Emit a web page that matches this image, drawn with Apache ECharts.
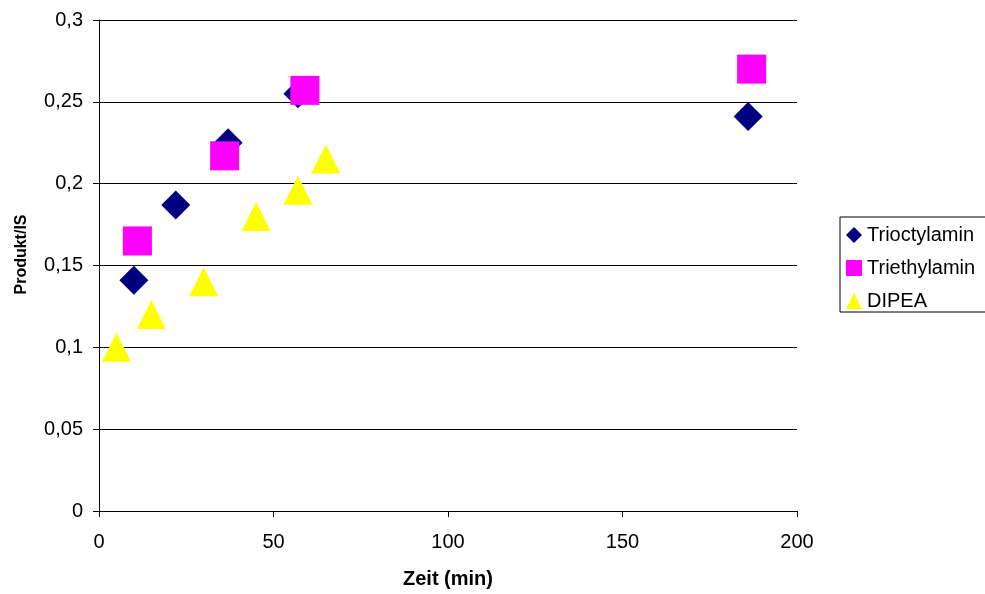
<!DOCTYPE html>
<html>
<head>
<meta charset="utf-8">
<script src="https://cdn.jsdelivr.net/npm/echarts@6/dist/echarts.min.js"></script>
<style>
html,body{margin:0;padding:0;background:#fff;}
#chart{width:985px;height:594px;}
</style>
</head>
<body>
<div id="chart"></div>
<script>
var seriesNames = ['Trioctylamin', 'Triethylamin', 'DIPEA'];
var triocX = [10, 22, 37, 57, 186];
var triocY = [0.141, 0.187, 0.225, 0.255, 0.241];
var triethX = [11, 36, 59, 187];
var triethY = [0.165, 0.217, 0.257, 0.270];
var dipeaX = [5, 15, 30, 45, 57, 65];
var dipeaY = [0.100, 0.120, 0.140, 0.180, 0.196, 0.215];

function pairs(xs, ys) { return xs.map(function (x, i) { return [x, ys[i]]; }); }
var fmt = function (v) { return String(v).replace('.', ','); };
var font = 'Liberation Sans, Arial, sans-serif';

var chart = echarts.init(document.getElementById('chart'), null, {renderer: 'canvas'});
chart.setOption({
  animation: false,
  backgroundColor: '#fff',
  grid: {left: 99, right: 188, top: 20, bottom: 79, containLabel: false},
  xAxis: {
    type: 'value', min: 0, max: 200, interval: 50,
    name: 'Zeit (min)', nameLocation: 'middle', nameGap: 58,
    nameTextStyle: {fontFamily: font, fontSize: 20, fontWeight: 'bold', color: '#000'},
    axisLine: {lineStyle: {color: '#000', width: 1}},
    axisTick: {show: true, inside: false, length: 6, lineStyle: {color: '#000'}},
    axisLabel: {fontFamily: font, fontSize: 20, color: '#000', margin: 21, formatter: fmt},
    splitLine: {show: false}
  },
  yAxis: {
    type: 'value', min: 0, max: 0.3, interval: 0.05,
    name: 'Produkt/IS', nameLocation: 'middle', nameGap: 69, nameRotate: 90,
    nameTextStyle: {fontFamily: font, fontSize: 16, fontWeight: 'bold', color: '#000', padding: [0, 0, 0, 22]},
    axisLine: {show: true, lineStyle: {color: '#000', width: 1}},
    axisTick: {show: true, inside: false, length: 6, lineStyle: {color: '#000'}},
    axisLabel: {fontFamily: font, fontSize: 20, color: '#000', margin: 16, formatter: fmt},
    splitLine: {show: true, lineStyle: {color: '#000', width: 1}}
  },
  legend: {
    orient: 'vertical', left: 840, top: 217,
    padding: [8, 40, 1, 6], itemGap: 13, itemWidth: 16, itemHeight: 16,
    borderColor: '#000', borderWidth: 1,
    textStyle: {fontFamily: font, fontSize: 20, color: '#000'},
    data: [
      {name: seriesNames[0], icon: 'diamond'},
      {name: seriesNames[1], icon: 'rect'},
      {name: seriesNames[2], icon: 'triangle'}
    ]
  },
  series: [
    {name: seriesNames[0], type: 'scatter', symbol: 'diamond', symbolSize: 29,
     itemStyle: {color: '#000080', opacity: 1}, data: pairs(triocX, triocY)},
    {name: seriesNames[1], type: 'scatter', symbol: 'rect', symbolSize: 29,
     itemStyle: {color: '#FF00FF', opacity: 1}, data: pairs(triethX, triethY)},
    {name: seriesNames[2], type: 'scatter', symbol: 'triangle', symbolSize: 29,
     itemStyle: {color: '#FFFF00', opacity: 1}, data: pairs(dipeaX, dipeaY)}
  ]
});
</script>
</body>
</html>
